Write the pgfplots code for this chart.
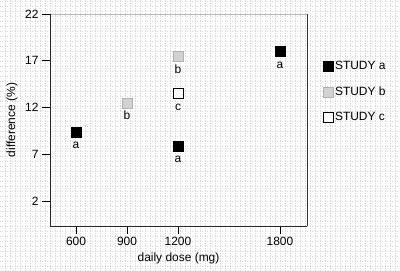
\documentclass[border=0pt]{standalone}
\usepackage{pgfplots}
\pgfplotsset{compat=1.18}
\usepackage{fontspec}
\setmainfont{Liberation Sans}
\usetikzlibrary{patterns}

\pgfplotstableread{
x    y    lab
600  9.4  a
1200 7.9  a
1800 18.0 a
}\studya
\pgfplotstableread{
x    y    lab
900  12.5 b
1200 17.5 b
}\studyb
\pgfplotstableread{
x    y    lab
1200 13.5 c
}\studyc

\newcommand{\lblfont}{\fontsize{12}{14}\selectfont}

\begin{document}
\begin{tikzpicture}[x=1bp,y=1bp]
% dotted paper background (axis box is 0..257 x 0..212)
\fill[white] (-50,-45) rectangle (350,226);
\draw[gray!30, line width=0.5bp, dash pattern=on 0.6bp off 1.9bp]
  (-50,-45) grid[xstep=5bp, ystep=5bp] (350,226);
\begin{axis}[
  at={(0,0)}, anchor=south west,
  scale only axis, width=257bp, height=212bp,
  xmin=447, xmax=1959, ymin=-0.67, ymax=22,
  xtick={600,900,1200,1800}, ytick={2,7,12,17,22},
  xtick pos=bottom, ytick pos=left,
  tick align=outside, major tick length=8bp,
  tick style={black, line width=0.8bp},
  axis line style={draw=none},
  /pgf/number format/assume math mode=true,
  /pgf/number format/1000 sep={},
  tick label style={font=\lblfont},
  label style={font=\lblfont},
  xlabel={daily dose (mg)},
  ylabel={difference (\%)},
  xlabel style={at={(axis description cs:0.5,-0.151)}, anchor=center},
  ylabel style={at={(axis description cs:-0.148,0.5)}, anchor=center},
  legend style={draw=none, fill=none, font=\lblfont,
    at={(axis description cs:1.05,0.632)}, anchor=west,
    row sep=11.5bp},
  legend cell align=left,
  clip=false,
  nodes near coords,
  point meta=explicit symbolic,
  every node near coord/.append style={anchor=base, yshift=-17bp, font=\lblfont},
]
% plot frame: dark left/bottom, grey top/right
\draw[gray!55, line width=0.8bp] (rel axis cs:0,1) -- (rel axis cs:1,1);
\draw[gray!40!black, line width=0.8bp] (rel axis cs:1,1) -- (rel axis cs:1,0);
\draw[black!85, line width=0.8bp] (rel axis cs:0,1) -- (rel axis cs:0,0) -- (rel axis cs:1,0);

\addplot[only marks, mark=square*, mark size=5bp,
  mark options={fill=black, draw=black}]
  table[x=x, y=y, meta=lab] {\studya};
\addplot[only marks, mark=square*, mark size=5bp,
  mark options={fill=gray!35, draw=gray!60,
    postaction={pattern=crosshatch dots, pattern color=gray!80!black}}]
  table[x=x, y=y, meta=lab] {\studyb};
\addplot[only marks, mark=square*, mark size=5bp,
  mark options={fill=white, draw=black, line width=0.8bp}]
  table[x=x, y=y, meta=lab] {\studyc};
\legend{STUDY a, STUDY b, STUDY c}
\end{axis}
\pgfresetboundingbox
\useasboundingbox (-50,-45) rectangle (350,226);
\end{tikzpicture}
\end{document}
